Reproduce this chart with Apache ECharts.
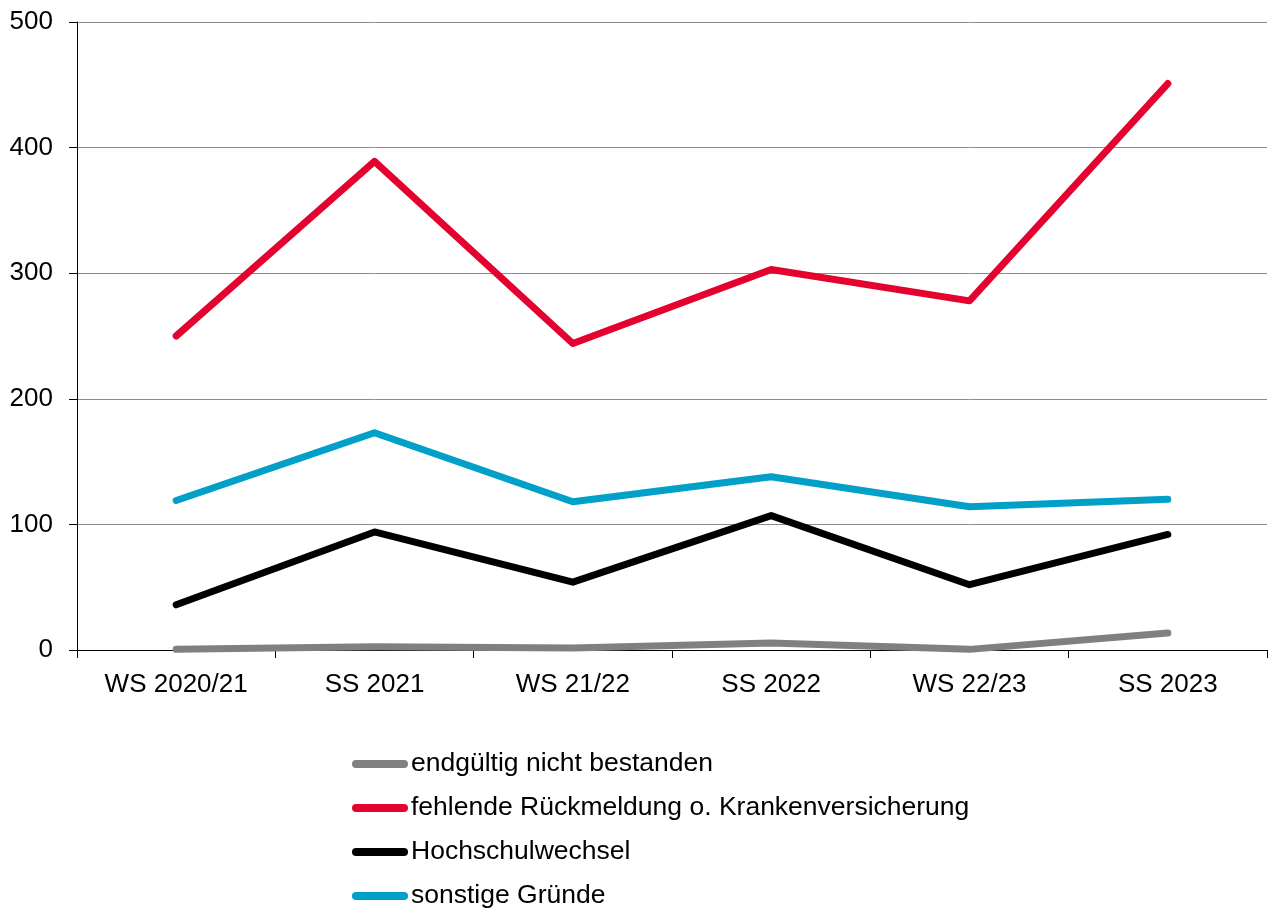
<!DOCTYPE html>
<html><head><meta charset="utf-8">
<script src="https://cdn.jsdelivr.net/npm/echarts@6/dist/echarts.min.js"></script>
<style>html,body{margin:0;padding:0;background:#fff}#c{width:1270px;height:908px}</style>
</head><body><div id="c"></div>
<script>
const categories = ['WS 2020/21','SS 2021','WS 21/22','SS 2022','WS 22/23','SS 2023'];
const endgueltig = [0.5, 2.5, 1.5, 5.5, 0.5, 13.5];
const rueckmeldung = [250, 389, 244, 303, 278, 451];
const hochschulwechsel = [36, 94, 54, 107, 52, 92];
const sonstige = [119, 173, 118, 138, 114, 120];
const seriesNames = ['endgültig nicht bestanden','fehlende Rückmeldung o. Krankenversicherung','Hochschulwechsel','sonstige Gründe'];
const yTicks = [0,100,200,300,400,500];

const colors = ['#808080','#e4032e','#000000','#00a0c8'];
const dataArr = [endgueltig, rueckmeldung, hochschulwechsel, sonstige];
const font = 'Liberation Sans, Arial, sans-serif';
const chart = echarts.init(document.getElementById('c'), null, {renderer:'canvas'});
chart.setOption({
  animation:false,
  backgroundColor:'#fff',
  grid:{left:77,right:3,top:22,bottom:258,containLabel:false},
  xAxis:{type:'category',data:categories,boundaryGap:true,
    axisLine:{lineStyle:{color:'#000',width:1}},
    axisTick:{show:true,length:8,lineStyle:{color:'#000'}},
    axisLabel:{color:'#000',fontSize:26,fontFamily:font,margin:22},
    splitLine:{show:false}},
  yAxis:{type:'value',min:yTicks[0],max:yTicks[yTicks.length-1],interval:100,
    axisLine:{show:true,lineStyle:{color:'#000',width:1}},
    axisTick:{show:true,length:8,lineStyle:{color:'#000'}},
    axisLabel:{color:'#000',fontSize:26,fontFamily:font,margin:24},
    splitLine:{show:true,lineStyle:{color:'#8c8c8c',width:1}}},
  legend:{orient:'vertical',left:352,top:750,height:400,padding:0,itemGap:16,
    itemWidth:56,itemHeight:8,
    icon:'path://M4,0 H52 A4,4 0 0 1 52,8 H4 A4,4 0 0 1 4,0 Z',
    textStyle:{color:'#000',fontSize:26.5,fontFamily:font,lineHeight:28,padding:[0,0,0,-2]},
    data:seriesNames},
  series: seriesNames.map((n,i)=>({
    name:n,type:'line',data:dataArr[i],showSymbol:false,symbol:'none',
    color:colors[i],
    lineStyle:{color:colors[i],width:7,cap:'round',join:'round'},
    z: i===0?5:2
  }))
});
</script></body></html>
